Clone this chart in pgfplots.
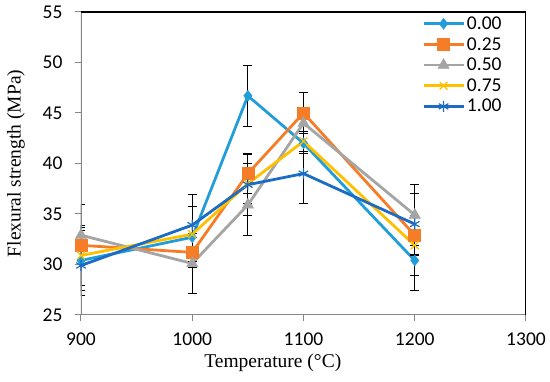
\documentclass[border=0pt]{standalone}
\usepackage{fontspec}
\setmainfont{Liberation Serif}
\newfontfamily\carlito{Carlito}
\usepackage{pgfplots}
\pgfplotsset{compat=1.18}
\definecolor{cA}{RGB}{33,158,218}
\definecolor{cB}{RGB}{245,125,40}
\definecolor{cC}{RGB}{165,165,165}
\definecolor{cD}{RGB}{255,192,0}
\definecolor{cE}{RGB}{28,108,196}
\definecolor{axgray}{RGB}{134,134,134}
\begin{document}
\begin{tikzpicture}
\begin{axis}[
  at={(0,0)}, anchor=south west,
  scale only axis, width=445pt, height=303pt,
  xmin=900, xmax=1300, ymin=25, ymax=55,
  xtick={900,1000,1100,1200,1300},
  ytick={25,30,35,40,45,50,55},
  axis line style={draw=none},
  tick pos=left, tick align=outside,
  major tick length=6pt,
  tick style={axgray, line width=1pt},
  /pgf/number format/1000 sep={},
  /pgf/number format/assume math mode=true,
  ticklabel style={font=\carlito\fontsize{19.5}{19.5}\selectfont},
  xticklabel style={yshift=-8pt},
  yticklabel style={xshift=-9pt},
  xlabel={Temperature (\textdegree C)},
  ylabel={Flexural strength (MPa)},
  label style={font=\fontsize{19.5}{19.5}\selectfont},
  xlabel style={at={(rel axis cs:0.431,0)}, anchor=center, yshift=-48pt},
  ylabel style={at={(rel axis cs:0,0.5)}, anchor=center, rotate=0, yshift=65pt},
  legend style={draw=none, fill=none, at={(rel axis cs:0.764,0.995)}, anchor=north west,
    font=\carlito\fontsize{19.5}{19.5}\selectfont, row sep=2.5pt, inner sep=1pt,
    /tikz/every even column/.append style={column sep=1pt}},
  legend cell align=left,
  legend image code/.code={\draw[#1, mark repeat=2, mark phase=2] plot coordinates {(0pt,0pt) (20pt,0pt) (40pt,0pt)};},
  error bars/y dir=both, error bars/y explicit,
  error bars/error bar style={black, line width=1pt},
  error bars/error mark options={black, line width=1pt, mark size=4.5pt, rotate=90},
]
\addplot[color=cA, line width=2.8pt, mark=diamond*, mark size=5.5pt, mark options={solid, line width=0.5pt}] coordinates {
 (900,30.4) +- (0,3) (1000,32.7) +- (0,3) (1050,46.7) +- (0,3) (1100,42.0) +- (0,1) (1200,30.4) +- (0,3)};
\addlegendentry{0.00}
\addplot[color=cB, line width=2.8pt, mark=square*, mark size=6pt, mark options={solid, line width=0.5pt}] coordinates {
 (900,31.9) +- (0,1.8) (1000,31.2) +- (0,1.5) (1050,39.0) +- (0,2) (1100,45.0) +- (0,2) (1200,32.9) +- (0,2)};
\addlegendentry{0.25}
\addplot[color=cC, line width=2.8pt, mark=triangle*, mark size=6.5pt, mark options={solid, line width=0.5pt}] coordinates {
 (900,32.9) +- (0,3) (1000,30.1) +- (0,3) (1050,35.9) +- (0,3) (1100,44.0) +- (0,3) (1200,34.9) +- (0,3)};
\addlegendentry{0.50}
\addplot[color=cD, line width=2.8pt, mark=x, mark size=5.5pt, mark options={solid, line width=1.2pt}] coordinates {
 (900,30.9) +- (0,3) (1000,33.0) +- (0,2.7) (1050,38.0) +- (0,2) (1100,42.2) +- (0,1) (1200,31.9) +- (0,3)};
\addlegendentry{0.75}
\addplot[color=cE, line width=2.8pt, mark=asterisk, mark size=5.5pt, mark options={solid, line width=1.2pt}] coordinates {
 (900,29.9) +- (0,3) (1000,33.9) +- (0,3) (1050,37.9) +- (0,3) (1100,39.0) +- (0,3) (1200,34.0) +- (0,3)};
\addlegendentry{1.00}
\draw[axgray, line width=1.2pt] (rel axis cs:0,1) -- (rel axis cs:0,0) -- (rel axis cs:1,0);
\draw[black, line width=1.2pt] (rel axis cs:0,1) -- (rel axis cs:1,1) -- (rel axis cs:1,0);
\end{axis}
\pgfresetboundingbox
\path (-81pt,-67pt) rectangle (469pt,315pt);
\end{tikzpicture}
\end{document}
